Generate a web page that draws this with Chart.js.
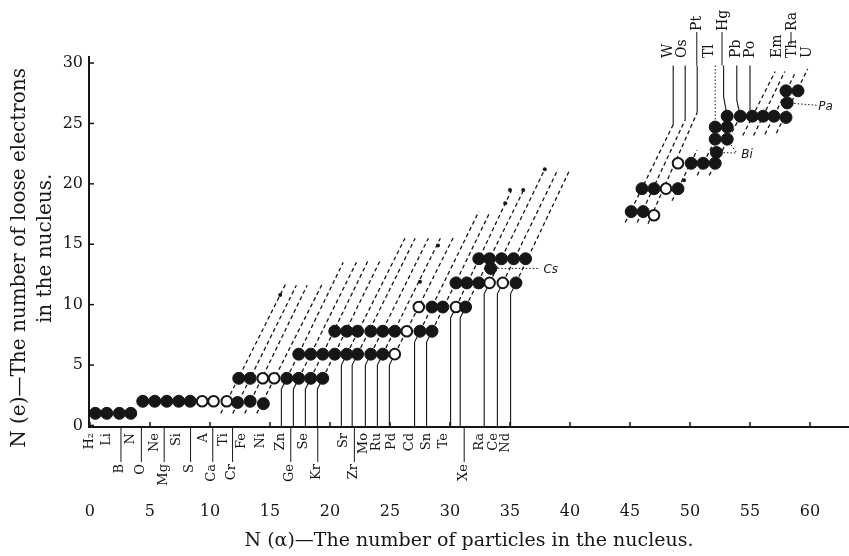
<!DOCTYPE html>
<html>
<head>
<meta charset="utf-8">
<script src="https://cdn.jsdelivr.net/npm/chart.js@4.4.0/dist/chart.umd.min.js"></script>
<style>
  html, body { margin: 0; padding: 0; background: #fff; }
  #wrap { width: 849px; height: 556px; }
</style>
</head>
<body>
<div id="wrap"><canvas id="myChart"></canvas></div>
<script>
// axis ticks
const xTicks = [0, 5, 10, 15, 20, 25, 30, 35, 40, 45, 50, 55, 60];
const yTicks = [0, 5, 10, 15, 20, 25, 30];

// filled dots [N(alpha), N(e)]
const filledDots = [
  [0.45, 1.0], [1.4, 1.0], [2.45, 1.0], [3.4, 1.0],
  [4.4, 2.0], [5.4, 2.0], [6.4, 2.0], [7.4, 2.0], [8.35, 2.0], [12.3, 1.9], [13.35, 2.0], [14.45, 1.8],
  [12.4, 3.9], [13.35, 3.9], [16.4, 3.9], [17.4, 3.9], [18.4, 3.9], [19.4, 3.9],
  [17.4, 5.9], [18.4, 5.9], [19.4, 5.9], [20.4, 5.9], [21.4, 5.9], [22.3, 5.9], [23.4, 5.9], [24.4, 5.9],
  [20.4, 7.8], [21.4, 7.8], [22.3, 7.8], [23.4, 7.8], [24.4, 7.8], [25.4, 7.8], [27.5, 7.8], [28.5, 7.8],
  [28.5, 9.8], [29.4, 9.8], [31.3, 9.8],
  [30.5, 11.8], [31.4, 11.8], [32.4, 11.8], [35.5, 11.8],
  [33.4, 13.0],
  [32.4, 13.8], [33.3, 13.8], [34.3, 13.8], [35.3, 13.8], [36.3, 13.8],
  [45.1, 17.7], [46.1, 17.7], [46.0, 19.6], [47.0, 19.6], [49.0, 19.6],
  [50.1, 21.7], [51.1, 21.7], [52.1, 21.7], [52.2, 22.6],
  [52.1, 23.7], [53.1, 23.7], [52.1, 24.7], [53.1, 24.7],
  [53.1, 25.6], [54.2, 25.6], [55.2, 25.6], [56.1, 25.6], [57.0, 25.6], [58.0, 25.5],
  [58.1, 26.7], [58.0, 27.7], [59.0, 27.7]
];

// open dots
const openDots = [
  [9.35, 2.0], [10.3, 2.0], [11.4, 2.0],
  [14.4, 3.9], [15.35, 3.9],
  [25.4, 5.9], [26.4, 7.8], [27.4, 9.8], [30.5, 9.8],
  [33.3, 11.8], [34.4, 11.8],
  [47.0, 17.4], [48.0, 19.6], [49.0, 21.7]
];

// little dots on the dashed lines
const smallDots = [
  [15.85, 10.8], [27.5, 11.9], [29.0, 14.9], [34.6, 18.4],
  [35.0, 19.5], [36.1, 19.5], [37.9, 21.2], [49.5, 20.3]
];

// dashed isotope lines [x0, y0, x1, y1]
const dashedLines = [
  [10.9, 1.0, 16.3, 11.7], [11.9, 1.0, 17.2, 11.6], [12.9, 1.0, 18.1, 11.6], [13.9, 1.0, 19.4, 11.8],
  [16.4, 3.9, 21.1, 13.5], [17.4, 3.9, 22.2, 13.5], [18.4, 3.9, 23.2, 13.7], [19.4, 3.9, 24.2, 13.7],
  [21.4, 5.9, 26.25, 15.5], [22.3, 5.9, 27.1, 15.5], [23.4, 5.9, 28.2, 15.5], [24.4, 5.9, 29.2, 15.5],
  [25.4, 5.9, 30.3, 15.6],
  [27.5, 7.8, 32.4, 17.7], [28.5, 7.8, 33.3, 17.6],
  [30.5, 9.8, 35.1, 19.4], [31.3, 9.8, 36.1, 19.4],
  [33.3, 11.8, 37.9, 21.2], [34.4, 11.8, 39.0, 21.2], [35.5, 11.8, 40.0, 21.2],
  [44.6, 16.8, 48.6, 24.9], [45.6, 16.8, 49.6, 25.3], [46.5, 16.7, 50.6, 25.9],
  [48.5, 18.6, 50.6, 22.8], [50.6, 20.7, 53.1, 25.6], [51.6, 20.7, 54.2, 25.6],
  [54.4, 24.0, 57.1, 29.3], [55.3, 24.0, 57.9, 29.3], [56.25, 24.1, 58.75, 29.15], [57.2, 24.2, 59.8, 29.5]
];

// dots that drop a solid line to the axis (Zn ... Nd)
const dropDots = [
  [16.4, 3.9], [17.4, 3.9], [18.4, 3.9], [19.4, 3.9],
  [21.4, 5.9], [22.3, 5.9], [23.4, 5.9], [24.4, 5.9], [25.4, 5.9],
  [27.5, 7.8], [28.5, 7.8], [30.5, 9.8], [31.3, 9.8],
  [33.3, 11.8], [34.4, 11.8], [35.5, 11.8]
];

// solid lines from the top labels
const topLines = [
  [48.6, 29.8, 48.6, 24.9],
  [49.6, 29.8, 49.6, 25.3],
  [50.6, 29.8, 50.6, 25.9],
  [52.8, 29.8, 52.8, 27.2, 53.1, 25.6],
  [53.9, 29.8, 53.9, 26.9, 54.2, 25.6],
  [55.0, 29.8, 55.0, 26.1, 55.2, 25.6]
];

// dotted lines (Tl and the notes)
const dottedLines = [
  [52.1, 29.8, 52.1, 24.7],
  [33.4, 13.0, 37.5, 13.0],
  [52.2, 22.6, 53.9, 22.55], [53.1, 23.7, 53.9, 22.55],
  [58.1, 26.7, 60.6, 26.5]
];

const bottomNames = ["H₂", "Li", "B", "N", "O", "Ne", "Mg", "Si", "S", "A", "Ca", "Ti", "Cr", "Fe", "Ni", "Zn",
  "Ge", "Se", "Kr", "Sr", "Zr", "Mo", "Ru", "Pd", "Cd", "Sn", "Te", "Xe", "Ra", "Ce", "Nd"];
const bottomPos = [0.0, 1.4, 2.5, 3.35, 4.2, 5.4, 6.1, 7.2, 8.3, 9.45, 10.15, 11.1, 11.8, 12.65, 14.2, 15.85,
  16.65, 17.8, 18.9, 21.1, 21.95, 22.8, 23.9, 25.15, 26.65, 28.05, 29.45, 31.1, 32.5, 33.6, 34.6];
const bottomRow = [0, 0, 1, 0, 1, 0, 1, 0, 1, 0, 1, 0, 1, 0, 0, 0,
  1, 0, 1, 0, 1, 0, 0, 0, 0, 0, 0, 1, 0, 0, 0];

const topNames = ["W", "Os", "Pt", "Tl", "Hg", "Pb", "Po", "Em", "Ra", "Th", "U"];
const topPos = [48.2, 49.35, 50.65, 51.65, 52.75, 53.9, 55.0, 57.25, 58.5, 58.5, 59.75];
const topRow = [0, 0, 1, 0, 1, 0, 0, 0, 1, 0, 0];

const notes = [["Cs", 38.4, 12.85], ["Bi", 54.75, 22.4], ["Pa", 61.3, 26.4]];

const X_MIN = -0.08, X_MAX = 63.25, Y_MIN = -0.13, Y_MAX = 30.5;
const INK = "#161616";

function pts(a) {
  const out = [];
  for (let i = 0; i < a.length; i += 2) out.push({ x: a[i], y: a[i + 1] });
  return out;
}

function lineSet(a, dash, width) {
  return {
    type: "line",
    data: pts(a),
    borderColor: INK,
    borderWidth: width,
    borderDash: dash,
    pointRadius: 0,
    fill: false,
    tension: 0,
    clip: false,
  };
}

const datasets = [
  {
    data: filledDots.map(d => ({ x: d[0], y: d[1] })),
    pointRadius: 6, pointBackgroundColor: INK, pointBorderColor: INK, pointBorderWidth: 1,
  },
  {
    data: openDots.map(d => ({ x: d[0], y: d[1] })),
    pointRadius: 5.3, pointBackgroundColor: "#fff", pointBorderColor: INK, pointBorderWidth: 2,
  },
  {
    data: smallDots.map(d => ({ x: d[0], y: d[1] })),
    pointRadius: 2, pointBackgroundColor: INK, pointBorderColor: INK, pointBorderWidth: 0,
  },
];
dashedLines.forEach(l => datasets.push(lineSet(l, [4, 3], 1.3)));
dropDots.forEach(d => datasets.push(lineSet([d[0] - 0.45, Y_MIN, d[0] - 0.45, d[1] - 0.9, d[0], d[1]], [], 1.1)));
topLines.forEach(l => datasets.push(lineSet(l, [], 1.1)));
dottedLines.forEach(l => datasets.push(lineSet(l, [1.5, 2], 1)));

const serif = '"DejaVu Serif", serif';

const labelPlugin = {
  id: "elementLabels",
  afterDraw(chart) {
    const { ctx, chartArea } = chart;
    const x = chart.scales.x, y = chart.scales.y;
    ctx.save();
    ctx.strokeStyle = INK;
    ctx.fillStyle = INK;

    // inward tick marks
    ctx.lineWidth = 1.5;
    xTicks.forEach(v => {
      const px = x.getPixelForValue(v);
      ctx.beginPath(); ctx.moveTo(px, chartArea.bottom); ctx.lineTo(px, chartArea.bottom - 5); ctx.stroke();
    });
    yTicks.forEach(v => {
      const py = y.getPixelForValue(v);
      ctx.beginPath(); ctx.moveTo(chartArea.left, py); ctx.lineTo(chartArea.left + 5, py); ctx.stroke();
    });

    // element names under the axis
    ctx.font = "13px " + serif;
    ctx.textBaseline = "middle";
    ctx.lineWidth = 1;
    bottomNames.forEach((n, i) => {
      const px = x.getPixelForValue(bottomPos[i]);
      const end = bottomRow[i] ? chartArea.bottom + 37 : chartArea.bottom + 6;
      if (bottomRow[i]) {
        ctx.beginPath(); ctx.moveTo(px + 1, chartArea.bottom); ctx.lineTo(px + 1, end - 2); ctx.stroke();
      }
      ctx.save();
      ctx.translate(px, end);
      ctx.rotate(-Math.PI / 2);
      ctx.textAlign = "right";
      ctx.fillText(n, 0, 0);
      ctx.restore();
    });

    // element names at the top
    ctx.font = "14px " + serif;
    topNames.forEach((n, i) => {
      const px = x.getPixelForValue(topPos[i]);
      const start = topRow[i] ? 31 : 58;
      if (topRow[i]) {
        const stop = n === "Ra" ? 44 : y.getPixelForValue(29.8);
        ctx.beginPath(); ctx.moveTo(px - 1, start + 1); ctx.lineTo(px - 1, stop); ctx.stroke();
      }
      ctx.save();
      ctx.translate(px, start);
      ctx.rotate(-Math.PI / 2);
      ctx.textAlign = "left";
      ctx.fillText(n, 0, 0);
      ctx.restore();
    });

    // hand written notes
    ctx.font = 'italic 12px "DejaVu Sans", sans-serif';
    ctx.textAlign = "center";
    notes.forEach(t => ctx.fillText(t[0], x.getPixelForValue(t[1]), y.getPixelForValue(t[2])));
    ctx.restore();
  },
};

new Chart(document.getElementById("myChart"), {
  type: "scatter",
  data: { datasets },
  plugins: [labelPlugin],
  options: {
    responsive: true,
    maintainAspectRatio: false,
    animation: false,
    events: [],
    layout: { autoPadding: false, padding: { top: 57, left: 0, right: 0, bottom: 0 } },
    plugins: { legend: { display: false }, tooltip: { enabled: false } },
    scales: {
      x: {
        type: "linear",
        min: X_MIN,
        max: X_MAX,
        afterBuildTicks: s => { s.ticks = xTicks.map(v => ({ value: v })); },
        afterFit: s => { s.height = 129; s.paddingLeft = 0; s.paddingRight = 0; },
        grid: { display: false, drawTicks: true, tickLength: 75 },
        border: { display: true, width: 2, color: INK },
        ticks: { color: INK, font: { family: serif, size: 16 }, padding: 0, maxRotation: 0, autoSkip: false },
        title: {
          display: true,
          text: "N (α)—The number of particles in the nucleus.",
          color: INK,
          font: { family: serif, size: 19 },
          padding: { top: 0, bottom: 4 },
        },
      },
      y: {
        type: "linear",
        min: Y_MIN,
        max: Y_MAX,
        afterBuildTicks: s => { s.ticks = yTicks.map(v => ({ value: v })); },
        afterFit: s => { s.width = 89; s.paddingTop = 0; s.paddingBottom = 0; },
        grid: { display: false, drawTicks: false },
        border: { display: true, width: 2, color: INK },
        ticks: { color: INK, font: { family: serif, size: 16 }, padding: 6 },
        title: {
          display: true,
          // trailing spaces nudge the centred lines down a little, as in the print
          text: ["N (e)—The number of loose electrons\u00a0\u00a0\u00a0\u00a0\u00a0", "in the nucleus.\u00a0\u00a0"],
          color: INK,
          font: { family: serif, size: 20, lineHeight: 1.3 },
          padding: { top: 7, bottom: 0 },
        },
      },
    },
  },
});
</script>
</body>
</html>
